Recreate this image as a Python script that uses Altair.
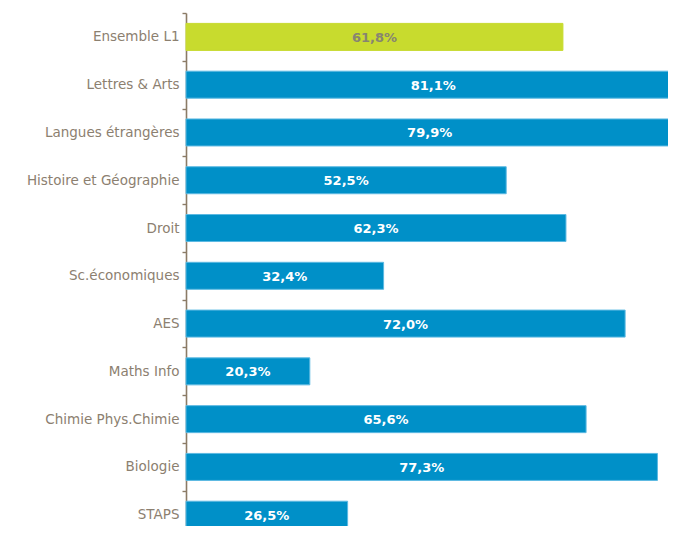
import altair as alt
import pandas as pd

categories = [
    "Ensemble L1",
    "Lettres & Arts",
    "Langues étrangères",
    "Histoire et Géographie",
    "Droit",
    "Sc.économiques",
    "AES",
    "Maths Info",
    "Chimie Phys.Chimie",
    "Biologie",
    "STAPS",
]
values = [61.8, 81.1, 79.9, 52.5, 62.3, 32.4, 72.0, 20.3, 65.6, 77.3, 26.5]
value_labels = ["61,8%", "81,1%", "79,9%", "52,5%", "62,3%", "32,4%",
                "72,0%", "20,3%", "65,6%", "77,3%", "26,5%"]
groups = ["Ensemble"] + ["Filière"] * 10

df = pd.DataFrame({"cat": categories, "val": values, "lab": value_labels, "grp": groups})

AXIS_COLOR = "#8B7B66"
LABEL_COLOR = "#8C8070"

y_enc = alt.Y(
    "cat:N",
    sort=categories,
    title=None,
    scale=alt.Scale(paddingInner=0, paddingOuter=0, range=[0, 525.6]),
    axis=alt.Axis(
        tickBand="extent",
        domainColor=AXIS_COLOR,
        domainWidth=1.6,
        tickColor=AXIS_COLOR,
        tickWidth=1.4,
        tickSize=4,
        labelPadding=3,
        labelColor=LABEL_COLOR,
        labelFont="DejaVu Sans",
        labelFontSize=13.5,
        labelLimit=300,
    ),
)

x_enc = alt.X(
    "val:Q",
    scale=alt.Scale(domain=[0, 79.03], nice=False, zero=True),
    axis=None,
)

bars = alt.Chart(df).mark_bar(size=27, strokeWidth=1).encode(
    y=y_enc,
    x=x_enc,
    color=alt.Color("grp:N", scale=alt.Scale(domain=["Ensemble", "Filière"],
                                             range=["#C8DB2E", "#0090C8"]), legend=None),
    stroke=alt.Stroke("grp:N", scale=alt.Scale(domain=["Ensemble", "Filière"],
                                               range=["#C8DB2E", "#5CB9E2"]), legend=None),
)

text = alt.Chart(df).transform_calculate(mid="datum.val / 2").mark_text(
    font="DejaVu Sans", fontSize=13, fontWeight="bold", baseline="middle", align="center", dy=1
).encode(
    y=alt.Y("cat:N", sort=categories),
    x=alt.X("mid:Q"),
    text="lab:N",
    color=alt.Color("grp:N", scale=alt.Scale(domain=["Ensemble", "Filière"],
                                             range=["#878571", "#FFFFFF"]), legend=None),
)

chart = alt.layer(bars, text).resolve_scale(color="independent").properties(
    width=482,
    height=513,
    autosize=alt.AutoSizeParams(type="none"),
    padding={"left": 178, "top": 5, "right": 0, "bottom": 0},
).configure_view(stroke=None)

chart.save("out.html", embed_options={"renderer": "svg", "actions": False})
